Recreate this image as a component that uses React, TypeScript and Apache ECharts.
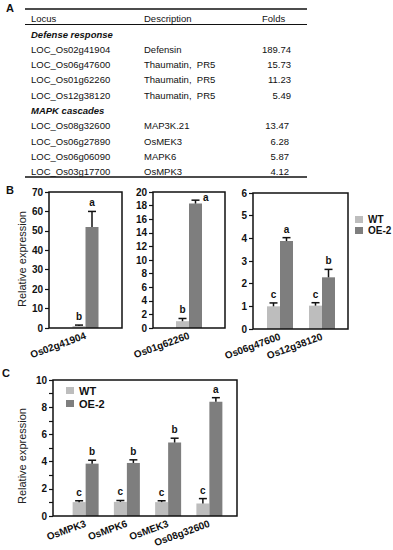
import React, { useEffect, useRef } from 'react';
import * as echarts from 'echarts';

const FONT = '"Liberation Sans", Arial, sans-serif';
const WT_COLOR = '#bdbdbd';
const OE_COLOR = '#7e7e7e';
const INK = '#111111';

// ---------- Panel A: table ----------
const tableHeaders = ['Locus', 'Description', 'Folds'];
const sectionTitles = ['Defense response', 'MAPK cascades'];
const defenseLocus = ['LOC_Os02g41904', 'LOC_Os06g47600', 'LOC_Os01g62260', 'LOC_Os12g38120'];
const defenseDesc = ['Defensin', 'Thaumatin,  PR5', 'Thaumatin,  PR5', 'Thaumatin,  PR5'];
const defenseFolds = ['189.74', '15.73', '11.23', '5.49'];
const mapkLocus = ['LOC_Os08g32600', 'LOC_Os06g27890', 'LOC_Os06g06090', 'LOC_Os03g17700'];
const mapkDesc = ['MAP3K.21', 'OsMEK3', 'MAPK6', 'OsMPK3'];
const mapkFolds = ['13.47', '6.28', '5.87', '4.12'];

// ---------- Panel B ----------
const b1Genes = ['Os02g41904'];
const b1WT = [1.0];
const b1WTErr = [0.5];
const b1OE = [52];
const b1OEErr = [8];
const b1WTLetters = ['b'];
const b1OELetters = ['a'];
const b1YTicks = [0, 10, 20, 30, 40, 50, 60, 70];

const b2Genes = ['Os01g62260'];
const b2WT = [1.0];
const b2WTErr = [0.4];
const b2OE = [18.3];
const b2OEErr = [0.5];
const b2WTLetters = ['b'];
const b2OELetters = ['a'];
const b2YTicks = [0, 2, 4, 6, 8, 10, 12, 14, 16, 18, 20];

const b3Genes = ['Os06g47600', 'Os12g38120'];
const b3WT = [1.0, 1.03];
const b3WTErr = [0.15, 0.13];
const b3OE = [3.88, 2.28];
const b3OEErr = [0.15, 0.35];
const b3WTLetters = ['c', 'c'];
const b3OELetters = ['a', 'b'];
const b3YTicks = [0, 1, 2, 3, 4, 5, 6];

// ---------- Panel C ----------
const cGenes = ['OsMPK3', 'OsMPK6', 'OsMEK3', 'Os08g32600'];
const cWT = [1.02, 1.04, 1.02, 0.92];
const cWTErr = [0.1, 0.1, 0.1, 0.36];
const cOE = [3.85, 3.9, 5.4, 8.4];
const cOEErr = [0.25, 0.23, 0.32, 0.3];
const cWTLetters = ['c', 'c', 'c', 'c'];
const cOELetters = ['b', 'b', 'b', 'a'];
const cYTicks = [0, 1, 2, 3, 4, 5, 6, 7, 8, 9, 10];
const cYLabels = [0, 2, 4, 6, 8, 10];

const seriesNames = ['WT', 'OE-2'];
const yTitle = 'Relative expression';

const BW = 13;

type PanelCfg = {
  genes: string[];
  wt: number[];
  wtErr: number[];
  oe: number[];
  oeErr: number[];
  wtL: string[];
  oeL: string[];
  ticks: number[];
  labels?: number[];
  grid: { left: number; top: number; width: number; height: number };
  frame: { x: number; y: number; width: number; height: number };
  offset: number;
};

function buildPanel(i: number, cfg: PanelCfg) {
  const grid = { ...cfg.grid, containLabel: false };
  const xAxis = {
    type: 'category',
    gridIndex: i,
    data: cfg.genes,
    axisLine: { show: false },
    axisTick: { show: false },
    axisLabel: {
      interval: 0,
      rotate: 20,
      margin: 7,
      fontFamily: FONT,
      fontWeight: 'bold',
      fontSize: 10,
      color: INK,
    },
  };
  const interval = cfg.ticks[1] - cfg.ticks[0];
  const yAxis = {
    type: 'value',
    gridIndex: i,
    min: cfg.ticks[0],
    max: cfg.ticks[cfg.ticks.length - 1],
    interval,
    offset: cfg.offset,
    axisLine: { show: false },
    axisTick: { show: true, length: 4, lineStyle: { color: INK, width: 1.2 } },
    splitLine: { show: false },
    axisLabel: {
      margin: 6,
      fontFamily: FONT,
      fontWeight: 'bold',
      fontSize: 10,
      color: INK,
      formatter: (v: number) => {
        if (cfg.labels) return cfg.labels.indexOf(v) >= 0 ? String(v) : '';
        return String(v);
      },
    },
  };
  const letters = [...cfg.wtL, ...cfg.oeL];
  const errData = [
    ...cfg.wt.map((v, j) => [j, v, cfg.wtErr[j], -1]),
    ...cfg.oe.map((v, j) => [j, v, cfg.oeErr[j], 1]),
  ];
  const series = [
    {
      type: 'bar',
      name: seriesNames[0],
      xAxisIndex: i,
      yAxisIndex: i,
      data: cfg.wt,
      barWidth: BW,
      barGap: '0%',
      itemStyle: { color: WT_COLOR },
    },
    {
      type: 'bar',
      name: seriesNames[1],
      xAxisIndex: i,
      yAxisIndex: i,
      data: cfg.oe,
      barWidth: BW,
      barGap: '0%',
      itemStyle: { color: OE_COLOR },
    },
    {
      type: 'custom',
      name: 'err' + i,
      xAxisIndex: i,
      yAxisIndex: i,
      data: errData,
      encode: { x: 0, y: 1 },
      z: 5,
      renderItem: (params: any, api: any) => {
        const cat = api.value(0);
        const v = api.value(1);
        const e = api.value(2);
        const side = api.value(3);
        const p0 = api.coord([cat, v]);
        const p1 = api.coord([cat, v + e]);
        const cx = p0[0] + (side * BW) / 2;
        const top = params.coordSys.y;
        const letter = letters[params.dataIndex];
        let tx = cx;
        let ty = p1[1] - 3.5;
        let align = 'center';
        let va = 'bottom';
        if (p1[1] - 14 < top) {
          tx = cx + BW / 2 + 1;
          ty = p1[1] - 3;
          align = 'left';
          va = 'middle';
        }
        return {
          type: 'group',
          children: [
            {
              type: 'line',
              shape: { x1: cx, y1: p0[1], x2: cx, y2: p1[1] },
              style: { stroke: INK, lineWidth: 1.5 },
            },
            {
              type: 'line',
              shape: { x1: cx - 4, y1: p1[1], x2: cx + 4, y2: p1[1] },
              style: { stroke: INK, lineWidth: 1.5 },
            },
            {
              type: 'text',
              x: tx,
              y: ty,
              style: {
                text: letter,
                font: `bold 10px ${FONT}`,
                fill: INK,
                align,
                verticalAlign: va,
              },
            },
          ],
        };
      },
    },
  ];
  const frame = {
    type: 'rect',
    silent: true,
    z: 10,
    shape: { ...cfg.frame },
    style: { fill: 'none', stroke: INK, lineWidth: 1.5 },
  };
  return { grid, xAxis, yAxis, series, frame };
}

function tableGraphics() {
  const els: any[] = [];
  const txt = (text: string, x: number, y: number, extra: any = {}) => ({
    type: 'text',
    x,
    y,
    silent: true,
    style: {
      text,
      font: `9.5px ${FONT}`,
      fill: INK,
      align: 'left',
      verticalAlign: 'middle',
      ...extra,
    },
  });
  const lineEl = (y: number, w: number) => ({
    type: 'line',
    silent: true,
    shape: { x1: 25, y1: y, x2: 307, y2: y },
    style: { stroke: INK, lineWidth: w },
  });
  els.push(lineEl(9, 1.6));
  els.push(lineEl(24.5, 1));
  els.push(lineEl(177, 1.6));
  els.push(txt(tableHeaders[0], 31, 18.5));
  els.push(txt(tableHeaders[1], 144, 18.5));
  els.push(txt(tableHeaders[2], 262, 18.5));
  const sections = [
    { title: sectionTitles[0], locus: defenseLocus, desc: defenseDesc, folds: defenseFolds, fx: 291 },
    { title: sectionTitles[1], locus: mapkLocus, desc: mapkDesc, folds: mapkFolds, fx: 289 },
  ];
  let y = 34;
  const step = 15.3;
  sections.forEach((s) => {
    els.push(txt(s.title, 31, y, { font: `italic bold 9.5px ${FONT}` }));
    y += step;
    s.locus.forEach((l, j) => {
      els.push(txt(l, 31, y));
      els.push(txt(s.desc[j], 144, y));
      els.push(txt(s.folds[j], s.fx, y, { align: 'right' }));
      y += step;
    });
  });
  return els;
}

export default function App() {
  const ref = useRef<HTMLDivElement>(null);
  useEffect(() => {
    document.body.style.margin = '0';
    if (!ref.current) return;
    const chart = echarts.init(ref.current, undefined, { renderer: 'svg' });
    const panels: PanelCfg[] = [
      {
        genes: b1Genes, wt: b1WT, wtErr: b1WTErr, oe: b1OE, oeErr: b1OEErr,
        wtL: b1WTLetters, oeL: b1OELetters, ticks: b1YTicks,
        grid: { left: 49, top: 192, width: 73, height: 136 },
        frame: { x: 49, y: 192, width: 73, height: 136 },
        offset: 0,
      },
      {
        genes: b2Genes, wt: b2WT, wtErr: b2WTErr, oe: b2OE, oeErr: b2OEErr,
        wtL: b2WTLetters, oeL: b2OELetters, ticks: b2YTicks,
        grid: { left: 153, top: 192, width: 72, height: 136 },
        frame: { x: 153, y: 192, width: 72, height: 136 },
        offset: 0,
      },
      {
        genes: b3Genes, wt: b3WT, wtErr: b3WTErr, oe: b3OE, oeErr: b3OEErr,
        wtL: b3WTLetters, oeL: b3OELetters, ticks: b3YTicks,
        grid: { left: 259, top: 193, width: 84, height: 136 },
        frame: { x: 253, y: 193, width: 95, height: 136 },
        offset: 6,
      },
      {
        genes: cGenes, wt: cWT, wtErr: cWTErr, oe: cOE, oeErr: cOEErr,
        wtL: cWTLetters, oeL: cOELetters, ticks: cYTicks, labels: cYLabels,
        grid: { left: 65, top: 380, width: 165, height: 136 },
        frame: { x: 53, y: 380, width: 184, height: 136 },
        offset: 12,
      },
    ];
    const built = panels.map((p, i) => buildPanel(i, p));
    const label = (text: string, x: number, y: number) => ({
      type: 'text',
      x,
      y,
      silent: true,
      style: { text, font: `bold 11px ${FONT}`, fill: INK, align: 'center', verticalAlign: 'middle' },
    });
    const yTitleEl = (x: number, y: number) => ({
      type: 'text',
      x,
      y,
      rotation: Math.PI / 2,
      silent: true,
      style: { text: yTitle, font: `11px ${FONT}`, fill: '#222', align: 'center', verticalAlign: 'middle' },
    });
    const legendBase = {
      data: seriesNames,
      orient: 'vertical',
      icon: 'rect',
      itemWidth: 8,
      itemHeight: 7,
      itemGap: 0,
      padding: 0,
      selectedMode: false,
    };
    chart.setOption({
      animation: false,
      backgroundColor: '#ffffff',
      grid: built.map((b) => b.grid),
      xAxis: built.map((b) => b.xAxis),
      yAxis: built.map((b) => b.yAxis),
      series: built.flatMap((b) => b.series),
      legend: [
        {
          ...legendBase,
          left: 355,
          top: 214,
          textStyle: { fontFamily: FONT, fontWeight: 'bold', fontSize: 10, lineHeight: 11, color: INK },
        },
        {
          ...legendBase,
          left: 66,
          top: 384,
          textStyle: { fontFamily: FONT, fontWeight: 'bold', fontSize: 11, lineHeight: 13, color: INK },
        },
      ],
      graphic: [
        ...tableGraphics(),
        ...built.map((b) => b.frame),
        label('A', 10, 8),
        label('B', 10, 190),
        label('C', 6, 373),
        yTitleEl(22, 259),
        yTitleEl(22, 456),
      ],
    });
    return () => chart.dispose();
  }, []);
  return <div ref={ref} style={{ width: 393, height: 550 }} />;
}
